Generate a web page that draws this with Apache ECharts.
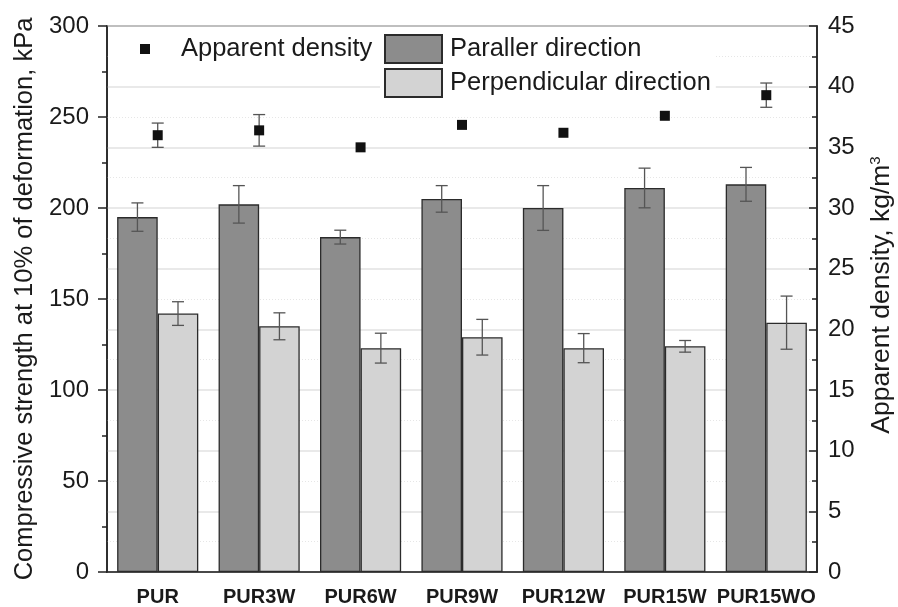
<!DOCTYPE html>
<html>
<head>
<meta charset="utf-8">
<script src="https://cdn.jsdelivr.net/npm/echarts@6/dist/echarts.min.js"></script>
<style>
  html, body { margin: 0; padding: 0; background: #fff; }
  #chart { width: 898px; height: 607px; }
</style>
</head>
<body>
<div id="chart"></div>
<script>
const categories = ["PUR", "PUR3W", "PUR6W", "PUR9W", "PUR12W", "PUR15W", "PUR15WO"];
const parallerValues = [195, 202, 184, 205, 200, 211, 213];
const parallerErrors = [7.8, 10.3, 3.8, 7.3, 12.3, 10.9, 9.3];
const perpendicularValues = [142, 135, 123, 129, 123, 124, 137];
const perpendicularErrors = [6.5, 7.4, 8.2, 9.8, 8, 3.2, 14.6];
const densityValues = [36.0, 36.4, 35.0, 36.85, 36.2, 37.6, 39.3];
const densityErrors = [1.0, 1.3, 0, 0, 0, 0, 1.0];

const FONT = "Liberation Sans, Arial, sans-serif";
const TEXT = "#1a1a1a";
const AXIS = "#222";

function withErrors(values, errors) {
  return values.map((v, i) => [i, v, errors[i]]);
}

function errorBarRenderer(offsetRatio) {
  return function (params, api) {
    const err = api.value(2);
    if (!err) {
      return null;
    }
    const idx = api.value(0);
    const val = api.value(1);
    const band = api.size([1, 0])[0];
    const x = api.coord([idx, val])[0] + offsetRatio * band;
    const top = api.coord([idx, val + err])[1];
    const bottom = api.coord([idx, val - err])[1];
    const cap = 6;
    const style = { stroke: "#555", lineWidth: 1.3 };
    return {
      type: "group",
      children: [
        { type: "line", shape: { x1: x, y1: top, x2: x, y2: bottom }, style },
        { type: "line", shape: { x1: x - cap, y1: top, x2: x + cap, y2: top }, style },
        { type: "line", shape: { x1: x - cap, y1: bottom, x2: x + cap, y2: bottom }, style }
      ]
    };
  };
}

const chart = echarts.init(document.getElementById("chart"), null, { renderer: "canvas" });

chart.setOption({
  backgroundColor: "#fff",
  animation: false,
  textStyle: { fontFamily: FONT },
  grid: {
    left: 107,
    right: 81,
    top: 26,
    bottom: 35,
    show: true,
    borderColor: AXIS,
    borderWidth: 1.5,
    backgroundColor: "transparent"
  },
  legend: [
    {
      data: ["Apparent density"],
      left: 110,
      top: 30,
      padding: [6, 6, 11, 30],
      backgroundColor: "#fff",
      icon: "rect",
      itemWidth: 10,
      itemHeight: 10,
      selectedMode: false,
      textStyle: { fontSize: 25.5, color: TEXT, padding: [0, 0, 0, 26] }
    },
    {
      data: ["Paraller direction", "Perpendicular direction"],
      orient: "vertical",
      left: 380,
      top: 30,
      padding: [4, 5, 2, 4],
      backgroundColor: "#fff",
      icon: "rect",
      itemWidth: 57,
      itemHeight: 28,
      itemGap: 4,
      selectedMode: false,
      textStyle: { fontSize: 25.5, color: TEXT, padding: [0, 0, 0, 3] }
    }
  ],
  xAxis: [
    {
      type: "category",
      data: categories,
      position: "bottom",
      axisLine: { lineStyle: { color: AXIS, width: 1.5 } },
      axisTick: { alignWithLabel: true, length: 9, lineStyle: { color: AXIS, width: 1.5 } },
      axisLabel: { color: TEXT, fontSize: 20, fontWeight: "bold", margin: 15, interval: 0 }
    },
    {
      type: "category",
      data: categories,
      position: "bottom",
      axisLine: { show: false },
      axisTick: { length: 5, lineStyle: { color: AXIS, width: 1.5 } },
      axisLabel: { show: false }
    }
  ],
  yAxis: [
    {
      type: "value",
      min: 0,
      max: 300,
      interval: 50,
      position: "left",
      name: "Compressive strength at 10% of deformation, kPa",
      nameLocation: "middle",
      nameGap: 69,
      nameTextStyle: { fontSize: 25.5, color: TEXT },
      axisLine: { show: true, lineStyle: { color: AXIS, width: 1.5 } },
      axisTick: { show: true, length: 9, lineStyle: { color: AXIS, width: 1.5 } },
      minorTick: { show: true, splitNumber: 2, length: 5, lineStyle: { color: AXIS, width: 1.5 } },
      axisLabel: { color: TEXT, fontSize: 24, margin: 18 },
      splitLine: { show: false }
    },
    {
      type: "value",
      min: 0,
      max: 45,
      interval: 5,
      position: "right",
      axisLine: { show: true, lineStyle: { color: AXIS, width: 1.5 } },
      axisTick: { show: true, inside: true, length: 8, lineStyle: { color: AXIS, width: 1.5 } },
      minorTick: { show: true, splitNumber: 2, length: 5, lineStyle: { color: AXIS, width: 1.5 } },
      axisLabel: { color: TEXT, fontSize: 24, margin: 11 },
      splitLine: { show: true, lineStyle: { color: "#e2e2e2", width: 1.5 } },
      minorSplitLine: { show: true, lineStyle: { color: "#e6e6e6", width: 1, type: [1, 2] } }
    }
  ],
  graphic: [
    {
      type: "text",
      x: 882,
      y: 295,
      rotation: Math.PI / 2,
      style: {
        text: "Apparent density, kg/m{sup|3}",
        fill: TEXT,
        font: "26.5px " + FONT,
        align: "center",
        verticalAlign: "middle",
        rich: {
          sup: { fontSize: 15, verticalAlign: "top", padding: [0, 0, 11, 0], fill: TEXT }
        }
      }
    }
  ],
  series: [
    {
      name: "Paraller direction",
      type: "bar",
      data: parallerValues,
      barGap: "0%",
      barCategoryGap: "20%",
      itemStyle: { color: "#8c8c8c", borderColor: "#2b2b2b", borderWidth: 1.3 },
      z: 2
    },
    {
      name: "Perpendicular direction",
      type: "bar",
      data: perpendicularValues,
      barGap: "0%",
      barCategoryGap: "20%",
      itemStyle: { color: "#d3d3d3", borderColor: "#2b2b2b", borderWidth: 1.3 },
      z: 2
    },
    {
      name: "parallerErr",
      type: "custom",
      renderItem: errorBarRenderer(-0.2),
      data: withErrors(parallerValues, parallerErrors),
      encode: { x: 0, y: 1 },
      z: 3,
      silent: true
    },
    {
      name: "perpendicularErr",
      type: "custom",
      renderItem: errorBarRenderer(0.2),
      data: withErrors(perpendicularValues, perpendicularErrors),
      encode: { x: 0, y: 1 },
      z: 3,
      silent: true
    },
    {
      name: "densityErr",
      type: "custom",
      yAxisIndex: 1,
      renderItem: errorBarRenderer(0),
      data: withErrors(densityValues, densityErrors),
      encode: { x: 0, y: 1 },
      z: 3,
      silent: true
    },
    {
      name: "Apparent density",
      type: "scatter",
      yAxisIndex: 1,
      data: densityValues,
      symbol: "rect",
      symbolSize: 10,
      itemStyle: { color: "#111", opacity: 1 },
      z: 4
    }
  ]
});
</script>
</body>
</html>
